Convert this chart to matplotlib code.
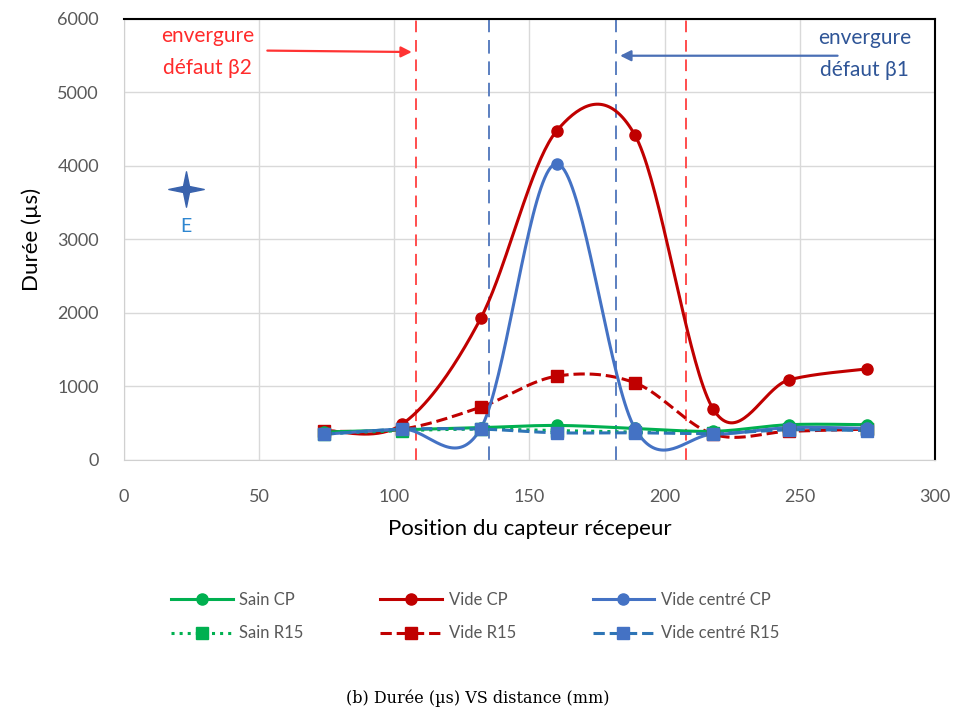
import numpy as np
import matplotlib
matplotlib.use("Agg")
import matplotlib.pyplot as plt
from matplotlib.lines import Line2D
from matplotlib.path import Path

plt.rcParams['font.family'] = ['Lato', 'DejaVu Sans']

# capteur positions (mm)
positions = [74, 103, 132, 160, 189, 218, 246, 275]

sain_cp = [380, 410, 440, 470, 430, 390, 480, 480]
vide_cp = [400, 490, 1930, 4475, 4420, 690, 1090, 1240]
vide_centre_cp = [350, 420, 430, 4030, 430, 350, 440, 430]
sain_r15 = [360, 400, 420, 400, 380, 370, 420, 420]
vide_r15 = [390, 420, 720, 1140, 1050, 350, 390, 420]
vide_centre_r15 = [350, 420, 420, 370, 370, 360, 410, 400]

span_b2 = [108, 208]
span_b1 = [135, 182]
emitter = (23, 3680)

GREEN = '#00B050'
RED = '#C00000'
BLUE = '#4472C4'
BLUE2 = '#2E75B6'


def smooth(x, y, n=40):
    # excel-like smoothed line (catmull-rom bezier)
    x = np.asarray(x, float)
    y = np.asarray(y, float)
    px = np.concatenate([[x[0]], x, [x[-1]]])
    py = np.concatenate([[y[0]], y, [y[-1]]])
    xs, ys = [], []
    t = np.linspace(0, 1, n)
    for i in range(1, len(px) - 2):
        p0 = np.array([px[i], py[i]])
        p3 = np.array([px[i + 1], py[i + 1]])
        p1 = p0 + (p3 - np.array([px[i - 1], py[i - 1]])) / 6
        p2 = p3 - (np.array([px[i + 2], py[i + 2]]) - p0) / 6
        b = ((1 - t) ** 3)[:, None] * p0 + (3 * (1 - t) ** 2 * t)[:, None] * p1 \
            + (3 * (1 - t) * t ** 2)[:, None] * p2 + (t ** 3)[:, None] * p3
        xs.extend(b[:, 0])
        ys.extend(b[:, 1])
    return xs, ys


fig = plt.figure(figsize=(9.56, 7.08), dpi=100)
ax = fig.add_axes([0.1297, 0.3503, 0.8483, 0.6229])

series = [
    (sain_cp, GREEN, '-', 'o', 'Sain CP'),
    (sain_r15, GREEN, ':', 's', 'Sain R15'),
    (vide_cp, RED, '-', 'o', 'Vide CP'),
    (vide_r15, RED, '--', 's', 'Vide R15'),
    (vide_centre_cp, BLUE, '-', 'o', 'Vide centré CP'),
    (vide_centre_r15, BLUE2, '--', 's', 'Vide centré R15'),
]
draw_order = [2, 3, 0, 1, 4, 5]
handles = []
for k in draw_order:
    vals, col, ls, mk, lab = series[k]
    sx, sy = smooth(positions, vals)
    ax.plot(sx, sy, color=col, ls=ls, lw=2.2, zorder=3)
    mcol = BLUE if k == 5 else col
    ax.plot(positions, vals, ls='none', marker=mk, ms=8, color=mcol, zorder=4)
for vals, col, ls, mk, lab in series:
    mcol = BLUE if lab == 'Vide centré R15' else col
    handles.append(Line2D([], [], color=col, ls=ls, lw=2.2, marker=mk, ms=8,
                          markerfacecolor=mcol, markeredgecolor=mcol, label=lab))

for xv in span_b2:
    ax.axvline(xv, color='#FF4D4D', ls=(0, (6, 4)), lw=1.4, zorder=2)
for xv in span_b1:
    ax.axvline(xv, color='#5B7FC0', ls=(0, (7, 4)), lw=1.4, zorder=2)

# thin four-point star for the emitter
star = Path([(0, 1), (0.17, 0.17), (1, 0), (0.17, -0.17), (0, -1), (-0.17, -0.17),
             (-1, 0), (-0.17, 0.17), (0, 1)], closed=True)
ax.scatter([emitter[0]], [emitter[1]], marker=star, s=650, color='#3A63AD', zorder=5)
ax.text(emitter[0], emitter[1] - 500, 'E', color='#2E86D0', fontsize=14, ha='center', va='center')

ax.annotate('', xy=(span_b2[0] - 0.5, 5550), xytext=(52, 5570),
            arrowprops=dict(arrowstyle='-|>', color='#FF3333', lw=1.6, mutation_scale=16))
ax.text(31, 5550, 'envergure\ndéfaut β2', color='#FF2B2B', fontsize=15, ha='center', va='center',
        linespacing=1.75)
ax.annotate('', xy=(span_b1[1] + 0.5, 5500), xytext=(265, 5500),
            arrowprops=dict(arrowstyle='-|>', color='#4A6FB5', lw=1.6, mutation_scale=16))
ax.text(274, 5530, 'envergure\ndéfaut β1', color='#2F5597', fontsize=15, ha='center', va='center',
        linespacing=1.75)

ax.set_xlim(0, 300)
ax.set_ylim(0, 6000)
ax.set_xticks(range(0, 301, 50))
ax.set_yticks(range(0, 6001, 1000))
ax.grid(True, color='#D9D9D9', lw=1)
ax.set_axisbelow(True)
ax.tick_params(length=0, labelsize=13, labelcolor='#595959')
ax.tick_params(axis='y', pad=18)
ax.tick_params(axis='x', pad=21)
for s in ['left', 'bottom']:
    ax.spines[s].set_color('#D0D0D0')
for s in ['top', 'right']:
    ax.spines[s].set_color('black')
    ax.spines[s].set_linewidth(1.5)
ax.set_xlabel('Position du capteur récepeur', fontsize=16, labelpad=10)
ax.set_ylabel('Durée (µs)', fontsize=16, labelpad=11)

fig.legend(handles=handles, ncol=3, loc='center', bbox_to_anchor=(0.497, 0.129),
           frameon=False, fontsize=12, handlelength=3.7, columnspacing=4.6,
           labelspacing=1.05, handletextpad=0.4, numpoints=1, labelcolor='#595959')

fig.text(0.5, 0.014, '(b) Durée (µs) VS distance (mm)', family='DejaVu Serif',
         fontsize=11.5, ha='center', va='center')

fig.savefig('out.png', dpi=100)
